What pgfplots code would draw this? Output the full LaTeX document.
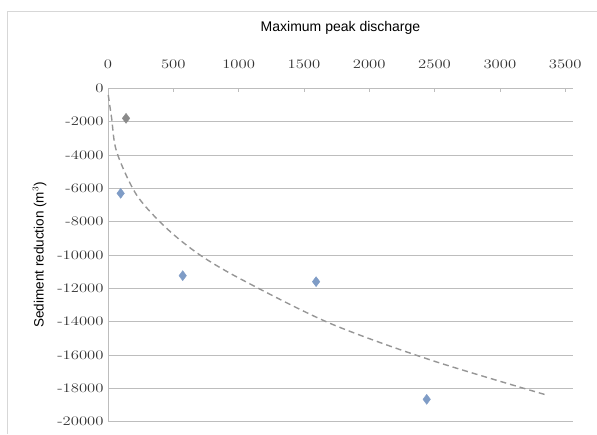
\documentclass[border=0pt]{standalone}
\usepackage{fontspec}
\setsansfont{Liberation Sans}
\usepackage{graphicx}
\usepackage{pgfplots}
\pgfplotsset{compat=1.18}
\definecolor{ptblue}{HTML}{7F9CC6}
\definecolor{ptgray}{HTML}{8A8A8A}
\definecolor{gridc}{HTML}{BDBDBD}
\newcommand\tl[1]{\scalebox{1.28}[1]{#1}}
\begin{document}
\begin{tikzpicture}[x=1pt,y=1pt]
\useasboundingbox (0,0) rectangle (597,434);
\draw[color=gridc!60,line width=0.8pt] (7,0) -- (7,423) -- (597,423);
\begin{axis}[
  at={(108pt,12.3pt)}, anchor=south west,
  width=465pt, height=333.4pt, scale only axis,
  xmin=0, xmax=3560, ymin=-20000, ymax=0,
  scaled ticks=false,
  xtick={0,500,...,3500}, ytick={-20000,-18000,...,0},
  xticklabels={\tl{0},\tl{500},\tl{1000},\tl{1500},\tl{2000},\tl{2500},\tl{3000},\tl{3500}},
  yticklabels={\tl{-20000},\tl{-18000},\tl{-16000},\tl{-14000},\tl{-12000},\tl{-10000},\tl{-8000},\tl{-6000},\tl{-4000},\tl{-2000},\tl{0}},
  axis x line*=top, axis y line*=left,
  xticklabel pos=top,
  axis line style={gridc, line width=0.8pt},
  tick style={gridc, line width=0.6pt},
  major tick length=4pt,
  ymajorgrids, grid style={gridc, line width=0.8pt},
  xticklabel style={font=\fontsize{13}{15}\selectfont, text=black!80, yshift=16pt},
  yticklabel style={font=\fontsize{13}{15}\selectfont, text=black!80, xshift=-1pt},
  xlabel={Maximum peak discharge},
  xlabel style={font=\sffamily\fontsize{14}{16}\selectfont, yshift=19pt},
  ylabel={Sediment reduction (m$^3$)},
  ylabel style={font=\sffamily\fontsize{13.5}{16}\selectfont, yshift=4pt},
  clip=false,
]
\addplot[ptgray!90, line width=1.4pt, dash pattern=on 6pt off 4pt, smooth] coordinates {
(2,-400) (28,-1800) (66,-3800) (219,-6400) (449,-8400) (704,-10000) (1030,-11500)
(1700,-14100) (2470,-16300) (3358,-18400)};
\addplot[only marks, mark=diamond*, mark size=5pt, ptblue, mark options={fill=ptblue, draw=ptblue}] coordinates {
(97,-6300) (572,-11240) (1593,-11600) (2440,-18660)};
\addplot[only marks, mark=diamond*, mark size=5pt, ptgray, mark options={fill=ptgray, draw=ptgray}] coordinates {
(138,-1800)};
\end{axis}
\end{tikzpicture}
\end{document}
